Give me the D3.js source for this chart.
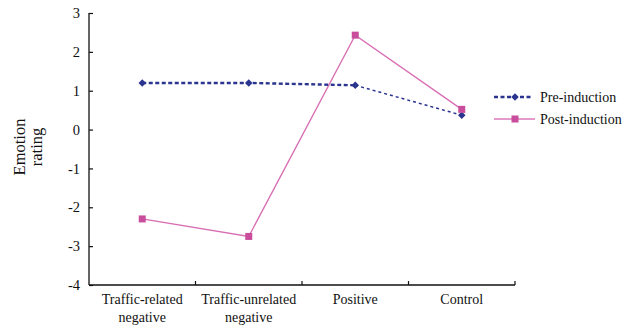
<!DOCTYPE html>
<html><head><meta charset="utf-8">
<script src="https://cdn.jsdelivr.net/npm/d3@7"></script>
<style>body{margin:0;background:#fff}svg{display:block}</style>
</head><body><svg id="c" width="626" height="330"></svg>
<script>
const categories = [["Traffic-related","negative"],["Traffic-unrelated","negative"],["Positive"],["Control"]];
const preValues = [1.2, 1.2, 1.14, 0.37];
const postValues = [-2.3, -2.75, 2.43, 0.52];
const yTicks = [3,2,1,0,-1,-2,-3,-4];
const seriesNames = ["Pre-induction","Post-induction"];

(function(){
const FF = "'Liberation Serif', 'DejaVu Serif', serif";
const svg = d3.select("#c");
const mL = 89, mR = 515, mT = 13, mB = 285;
const x = d3.scaleBand().domain(d3.range(categories.length)).range([mL, mR]).padding(0);
const y = d3.scaleLinear().domain([-4, 3]).range([mB, mT]);
const cx = i => x(i) + x.bandwidth()/2;

// y axis
const ya = svg.append("g").attr("transform",`translate(${mL},0)`)
  .call(d3.axisLeft(y).tickValues(yTicks).tickSizeInner(-4).tickSizeOuter(0).tickPadding(9).tickFormat(d=>String(d)));
ya.select(".domain").attr("stroke","#111").attr("stroke-width",1.3).attr("d",`M0,${mT}V${mB}`);
ya.selectAll(".tick line").attr("stroke","#111").attr("stroke-width",1.2);
ya.selectAll(".tick text").style("font-size","14.5px").style("font-family",FF).attr("fill","#111");
// x axis
const xa = svg.append("g").attr("transform",`translate(0,${mB})`);
xa.append("line").attr("x1",mL).attr("x2",mR).attr("stroke","#111").attr("stroke-width",1.3);
xa.selectAll("line.t").data(d3.range(1,categories.length+1)).enter().append("line").attr("class","t")
  .attr("x1",i=>x(i-1)+x.bandwidth()).attr("x2",i=>x(i-1)+x.bandwidth()).attr("y1",0).attr("y2",-4).attr("stroke","#111").attr("stroke-width",1.2);
categories.forEach((lines,i)=>{
  const t = xa.append("text").attr("text-anchor","middle").style("font-size","14px").style("font-family",FF).attr("fill","#111");
  lines.forEach((l,k)=>t.append("tspan").attr("x",cx(i)).attr("y",19+k*18).text(l));
});
// y label
const yl = svg.append("text").attr("transform","translate(0,147) rotate(-90)").attr("text-anchor","middle").style("font-size","16.5px").style("font-family",FF).attr("fill","#111");
yl.append("tspan").attr("x",0).attr("y",25).text("Emotion");
yl.append("tspan").attr("x",0).attr("y",42).text("rating");

const line = d3.line().x(d=>cx(d.i)).y(d=>y(d.v));
const pre = preValues.map((v,i)=>({i,v})), post = postValues.map((v,i)=>({i,v}));
const preC = "#2B3590", postLine = "#D86DB3", postC = "#C94D9C";
svg.append("path").attr("d",line(post)).attr("fill","none").attr("stroke",postLine).attr("stroke-width",1.3);
svg.append("path").attr("d",line(pre.slice(0,3))).attr("fill","none").attr("stroke",preC).attr("stroke-width",2.4).attr("stroke-dasharray","4,2.5");
svg.append("path").attr("d",line(pre.slice(2))).attr("fill","none").attr("stroke",preC).attr("stroke-width",1.5).attr("stroke-dasharray","3,3");
const diamond = d3.symbol().type(d3.symbolDiamond2).size(36);
svg.selectAll("path.pm").data(pre).enter().append("path").attr("class","pm").attr("d",diamond).attr("fill",preC)
  .attr("transform",d=>`translate(${cx(d.i)},${y(d.v)})`);
svg.selectAll("rect.qm").data(post).enter().append("rect").attr("class","qm").attr("width",7).attr("height",7).attr("fill",postC)
  .attr("x",d=>cx(d.i)-3.5).attr("y",d=>y(d.v)-3.5);
// legend
const lg = svg.append("g");
const ly = [97,119];
lg.append("line").attr("x1",494).attr("x2",531).attr("y1",ly[0]).attr("y2",ly[0]).attr("stroke",preC).attr("stroke-width",2.4).attr("stroke-dasharray","4,2.5");
lg.append("path").attr("d",diamond).attr("fill",preC).attr("transform",`translate(515,${ly[0]})`);
lg.append("line").attr("x1",494).attr("x2",535).attr("y1",ly[1]).attr("y2",ly[1]).attr("stroke","#E49ACB").attr("stroke-width",2);
lg.append("rect").attr("x",511.5).attr("y",ly[1]-3.5).attr("width",7).attr("height",7).attr("fill",postC);
seriesNames.forEach((n,k)=>lg.append("text").attr("x",540).attr("y",ly[k]+5).style("font-size","14px").style("font-family",FF).attr("fill","#111").text(n));
})();
</script></body></html>
